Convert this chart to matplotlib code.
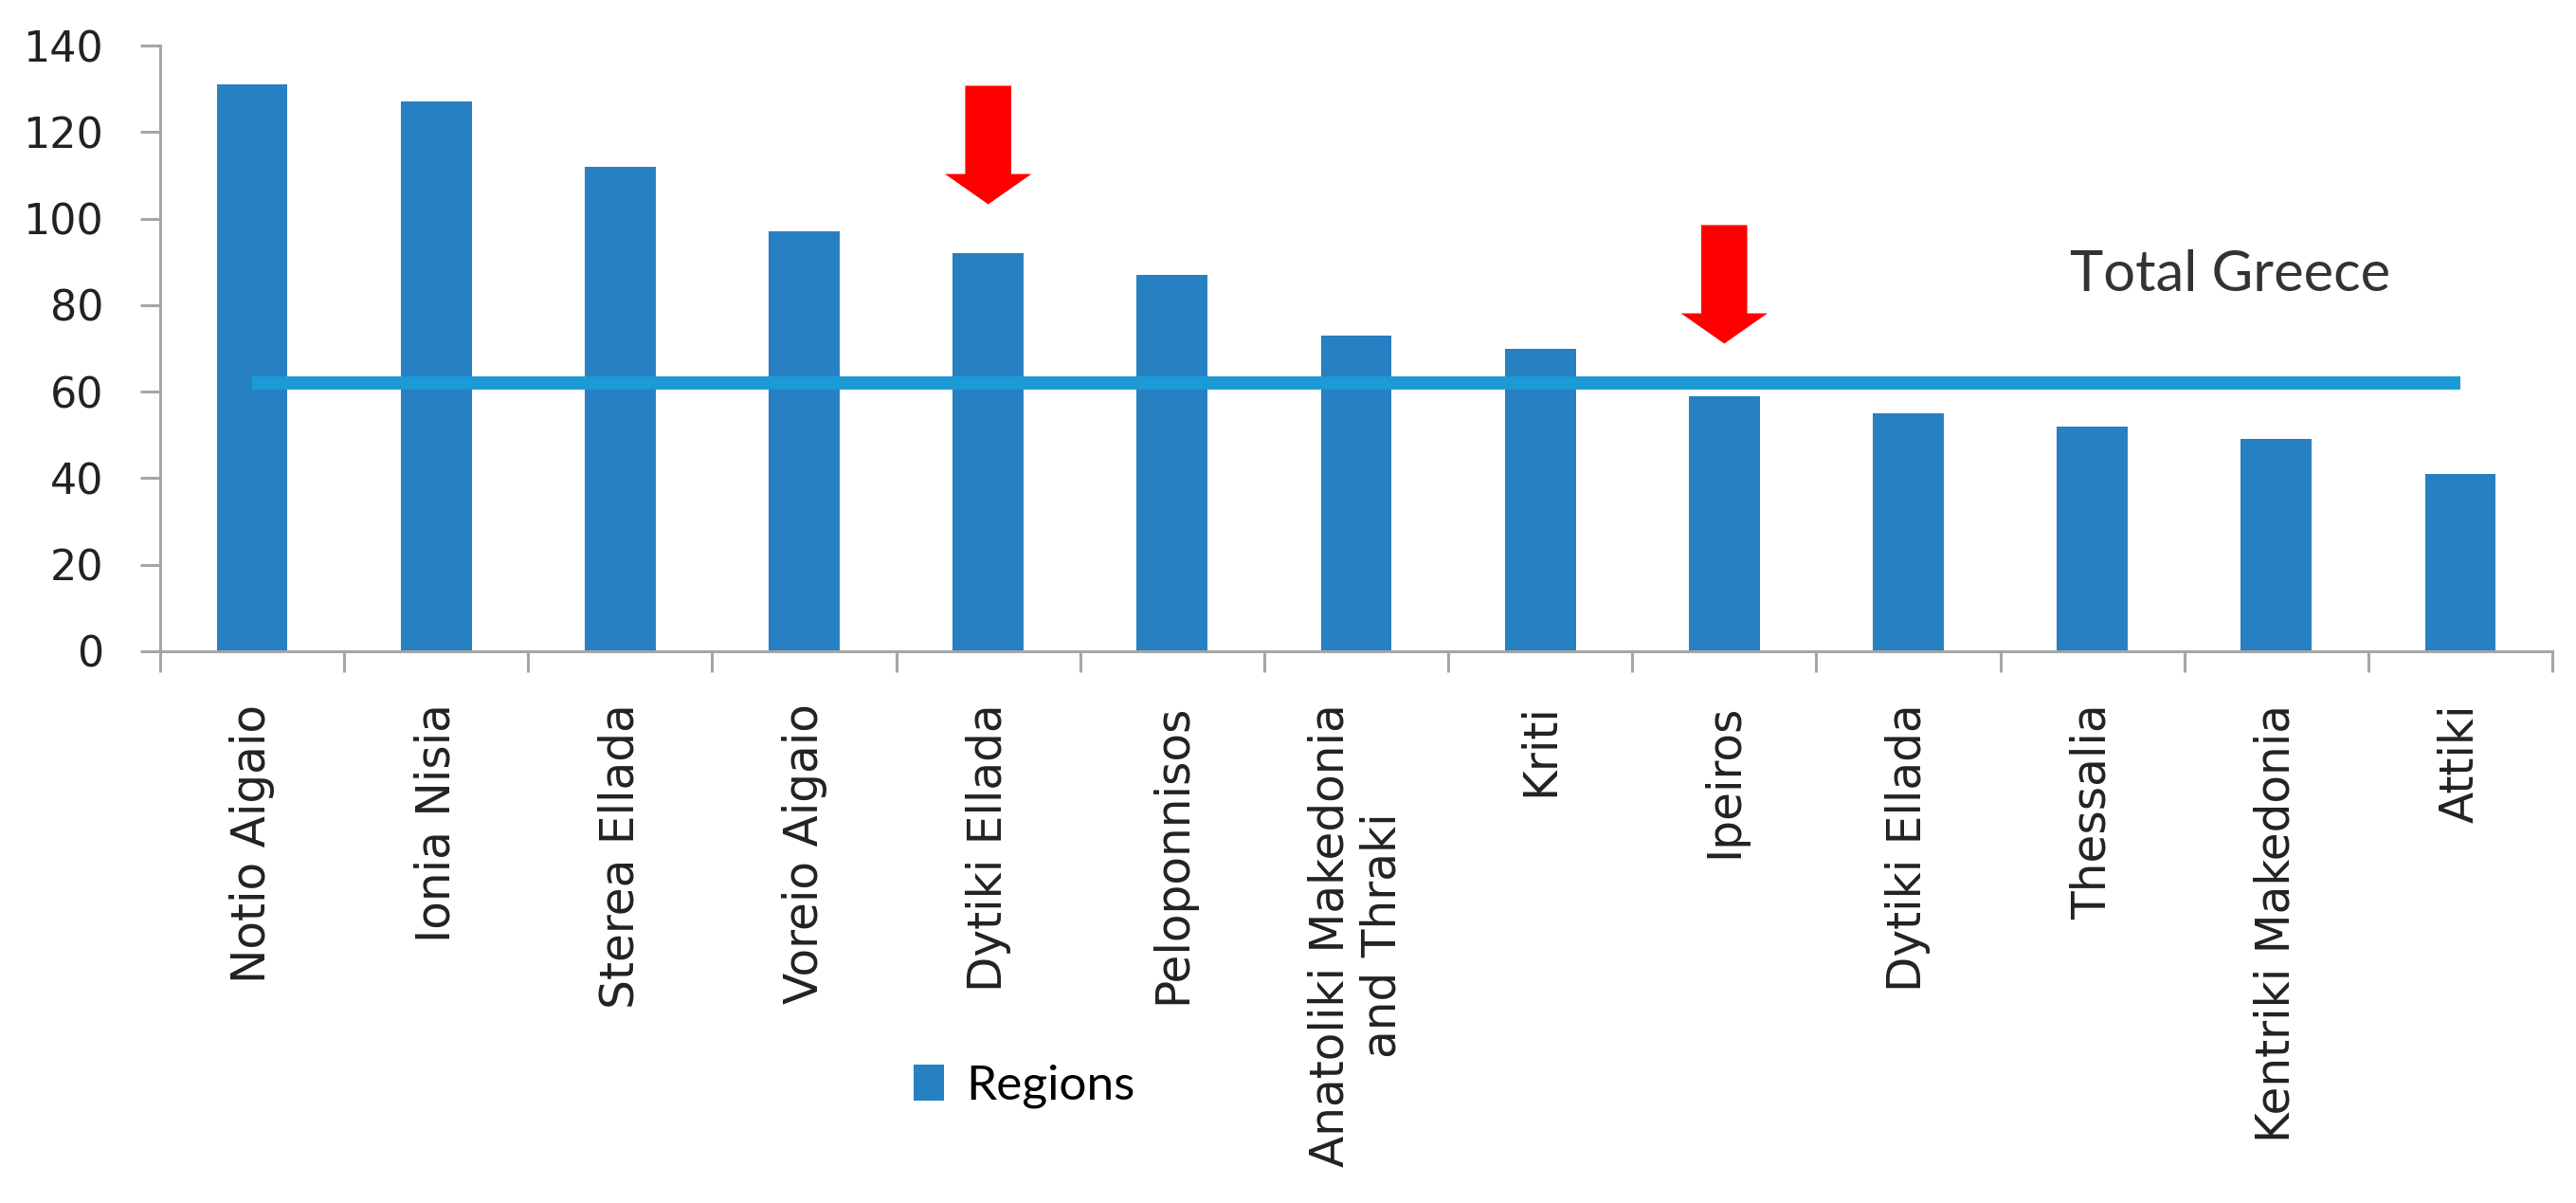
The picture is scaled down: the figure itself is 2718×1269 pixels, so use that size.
import matplotlib
matplotlib.use("Agg")
import matplotlib.pyplot as plt
import numpy as np

# regional values
regions = ["Notio Aigaio", "Ionia Nisia", "Sterea Ellada", "Voreio Aigaio",
           "Dytiki Ellada", "Peloponnisos", "Anatoliki Makedonia\nand Thraki",
           "Kriti", "Ipeiros", "Dytiki Ellada", "Thessalia",
           "Kentriki Makedonia", "Attiki"]
values = [131, 127, 112, 97, 92, 87, 73, 70, 59, 55, 52, 49, 41]
total_greece = 62

# red arrows: which bar, where the arrow starts, how long it is
arrow_bars = [4, 8]
arrow_tops = [130.7, 98.5]
arrow_len = 27.4

bar_color = "#2680c2"
line_color = "#1c9ad6"
axis_gray = "#a6a6a6"

fig = plt.figure(figsize=(27.18, 12.69), dpi=100)
ax = fig.add_axes([169/2718, 1 - 687/1269, (2693-169)/2718, (687-48)/1269])

x = np.arange(len(regions))
ax.bar(x, values, width=0.385, color=bar_color, label="Regions", zorder=2)
ax.plot([x[0], x[-1]], [total_greece, total_greece], color=line_color,
        lw=10, solid_capstyle="butt", zorder=3)

for i, top in zip(arrow_bars, arrow_tops):
    ax.arrow(x[i], top, 0, -arrow_len, width=0.25, head_width=0.47,
             head_length=7, length_includes_head=True, color="red",
             lw=0, zorder=4)

ax.text(10.75, 87, "Total Greece", fontsize=43, family="Lato",
        color="#333333", ha="center", va="center")

ax.set_xlim(-0.5, len(regions) - 0.5)
ax.set_ylim(0, 140)
ax.set_yticks(np.arange(0, 141, 20))
ax.tick_params(axis="y", direction="out", length=15, width=2.2,
               color=axis_gray, labelsize=32, pad=28, labelcolor="#222222")

ax.set_xticks(x)
ax.set_xticklabels(regions, rotation=90, fontsize=35, ha="center",
                   va="top", color="#222222", multialignment="center")
ax.tick_params(axis="x", which="major", length=0, pad=40)
ax.set_xticks(np.arange(-0.5, len(regions)), minor=True)
ax.tick_params(axis="x", which="minor", direction="out", length=16,
               width=2.2, color=axis_gray)

for s in ["top", "right"]:
    ax.spines[s].set_visible(False)
for s in ["left", "bottom"]:
    ax.spines[s].set_color(axis_gray)
    ax.spines[s].set_linewidth(2.2)

fig.legend(loc="center left", bbox_to_anchor=(964/2718, 1 - 1146/1269),
           bbox_transform=fig.transFigure, frameon=False, borderpad=0,
           borderaxespad=0, handlelength=0.63, handleheight=0.78,
           handletextpad=0.45, prop={"family": "Lato", "size": 37})

fig.savefig("out.png", dpi=100)
